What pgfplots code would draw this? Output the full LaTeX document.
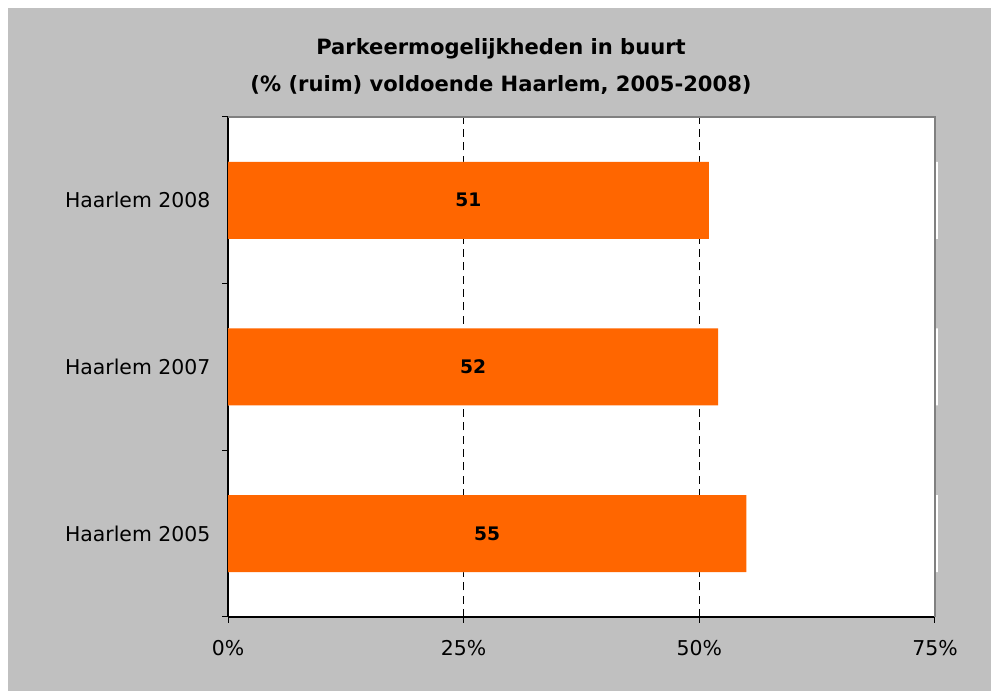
\documentclass[border=0pt]{standalone}
\usepackage{pgfplots}
\pgfplotsset{compat=1.18}
\usepackage{fontspec}
\setmainfont{DejaVu Sans}
\definecolor{bg}{HTML}{C0C0C0}
\definecolor{barc}{HTML}{FF6600}
\definecolor{framec}{HTML}{808080}
\begin{document}
\begin{tikzpicture}
\useasboundingbox (0pt,0pt) rectangle (743.25pt,518.25pt);
\fill[white] (0pt,0pt) rectangle (743.25pt,518.25pt);
\fill[bg] (6pt,0pt) rectangle (743.25pt,512.25pt);
\node[anchor=base, font=\bfseries\fontsize{15.8}{20}\selectfont] at (375.75pt,477pt) {Parkeermogelijkheden in buurt};
\node[anchor=base, font=\bfseries\fontsize{15.8}{20}\selectfont] at (375.75pt,449.25pt) {(\% (ruim) voldoende Haarlem, 2005-2008)};
\begin{axis}[
  at={(171pt,55.5pt)}, anchor=south west,
  width=530.25pt, height=375pt, scale only axis,
  xmin=0, xmax=75, ymin=-0.5, ymax=2.5,
  axis lines*=left,
  axis line style={black, line width=0.9pt},
  axis background/.style={fill=white},
  xtick={0,25,50,75},
  xticklabels={0\%,25\%,50\%,75\%},
  ytick={-0.5,0.5,1.5,2.5},
  yticklabels={{},{},{},{}},
  extra y ticks={0,1,2},
  extra y tick labels={Haarlem 2005,Haarlem 2007,Haarlem 2008},
  extra y tick style={major tick length=0pt},
  tick align=outside,
  major tick length=4.5pt,
  tick style={black, line width=0.75pt},
  tick label style={font=\fontsize{15.3}{18}\selectfont, text=black},
  xticklabel style={yshift=-9.75pt},
  yticklabel style={xshift=-9.75pt},
  xmajorgrids,
  grid style={black, line width=0.6pt, dash pattern=on 6pt off 4pt},
  clip=false,
]
\addplot[xbar, bar width=57.75pt, bar shift=0pt, fill=white, draw=none]
  coordinates {(75.3,0) (75.3,1) (75.3,2)};
\addplot[xbar, bar width=57.75pt, bar shift=0pt, fill=barc, draw=none]
  coordinates {(55,0) (52,1) (51,2)};
\addplot[draw=none, mark=none, nodes near coords, point meta=explicit symbolic,
  every node near coord/.style={anchor=center, text=black, font=\bfseries\fontsize{14}{16}\selectfont}]
  coordinates {(25.5,2) [51] (26,1) [52] (27.5,0) [55]};
\draw[framec, line width=1.5pt] (rel axis cs:0,1) -- (rel axis cs:1,1) -- (rel axis cs:1,0);
\end{axis}
\end{tikzpicture}
\end{document}
